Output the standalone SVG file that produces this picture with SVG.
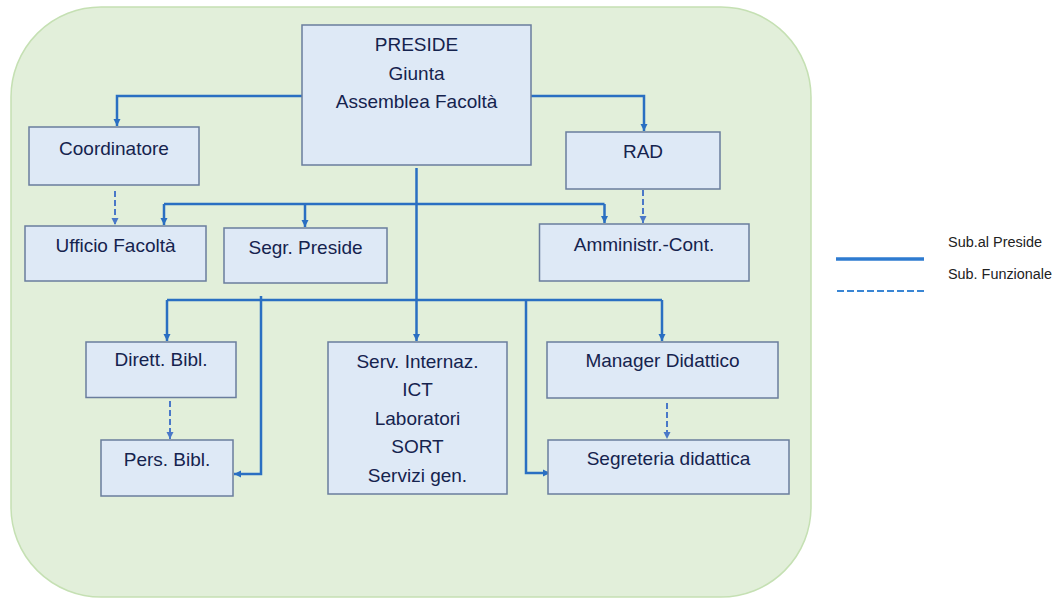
<svg xmlns="http://www.w3.org/2000/svg" width="1061" height="598" viewBox="0 0 1061 598">
<style>
.box{fill:#dee9f6;stroke:#6a7d9d;stroke-width:1.5}
.t{font-family:"Liberation Sans",Arial,sans-serif;font-size:19px;fill:#15234e;text-anchor:middle}
.c{fill:none;stroke:#2a6fc2;stroke-width:2.5}
.d{fill:none;stroke:#4a78c8;stroke-width:2;stroke-dasharray:6 3}
.lg{font-family:"Liberation Sans",Arial,sans-serif;font-size:14px;fill:#222}
</style>
<defs>
<marker id="ah" markerUnits="userSpaceOnUse" markerWidth="8" markerHeight="8" refX="7" refY="4" orient="auto">
<path d="M0,0.5 L7,4 L0,7.5 z" fill="#2a6fc2"/>
</marker>
<marker id="ahd" markerUnits="userSpaceOnUse" markerWidth="8" markerHeight="8" refX="7" refY="4" orient="auto">
<path d="M0,0.5 L7,4 L0,7.5 z" fill="#4a78c8"/>
</marker>
</defs>
<rect x="11" y="7" width="800" height="590" rx="90" ry="90" fill="#e2efda" stroke="#c5e0b3" stroke-width="1.5"/>
<g id="connectors">
<path class="c" d="M302,96 H117 V126" marker-end="url(#ah)"/>
<path class="c" d="M531,96 H644 V131" marker-end="url(#ah)"/>
<path class="c" d="M416.5,168 V341" marker-end="url(#ah)"/>
<path class="c" d="M164,204 H604.5"/>
<path class="c" d="M164,204 V225" marker-end="url(#ah)"/>
<path class="c" d="M305,204 V227" marker-end="url(#ah)"/>
<path class="c" d="M604.5,204 V223" marker-end="url(#ah)"/>
<path class="c" d="M167,300 H662"/>
<path class="c" d="M167,300 V341" marker-end="url(#ah)"/>
<path class="c" d="M662,300 V341" marker-end="url(#ah)"/>
<path class="c" d="M261,296 V474 H234" marker-end="url(#ah)"/>
<path class="c" d="M526,300 V473 H550" marker-end="url(#ah)"/>
<path class="d" d="M115,191 V225" marker-end="url(#ahd)"/>
<path class="d" d="M643,190 V223" marker-end="url(#ahd)"/>
<path class="d" d="M170,401 V439" marker-end="url(#ahd)"/>
<path class="d" d="M667,403 V439" marker-end="url(#ahd)"/>
</g>
<g id="preside"><rect class="box" x="302" y="25" width="229" height="140"/>
<text class="t" x="416.5" y="51">PRESIDE</text><text class="t" x="416.5" y="80">Giunta</text><text class="t" x="416.5" y="108">Assemblea Facoltà</text></g>
<g id="coordinatore"><rect class="box" x="29" y="127" width="170" height="58"/><text class="t" x="114" y="155">Coordinatore</text></g>
<g id="rad"><rect class="box" x="566" y="132" width="154" height="57"/><text class="t" x="643" y="158">RAD</text></g>
<g id="ufficio"><rect class="box" x="25" y="226" width="181" height="55"/><text class="t" x="115.5" y="252">Ufficio Facoltà</text></g>
<g id="segr-preside"><rect class="box" x="224" y="228" width="163" height="55"/><text class="t" x="305.5" y="253.5">Segr. Preside</text></g>
<g id="amministr"><rect class="box" x="539.5" y="224" width="209.5" height="57"/><text class="t" x="644" y="250.5">Amministr.-Cont.</text></g>
<g id="dirett-bibl"><rect class="box" x="86" y="342" width="150" height="55.5"/><text class="t" x="161" y="366">Dirett. Bibl.</text></g>
<g id="pers-bibl"><rect class="box" x="101" y="440" width="132" height="56"/><text class="t" x="167" y="466">Pers. Bibl.</text></g>
<g id="servizi"><rect class="box" x="328" y="342" width="179" height="152"/>
<text class="t" x="417.5" y="368">Serv. Internaz.</text><text class="t" x="417.5" y="396">ICT</text><text class="t" x="417.5" y="424.5">Laboratori</text><text class="t" x="417.5" y="453">SORT</text><text class="t" x="417.5" y="481.5">Servizi gen.</text></g>
<g id="manager"><rect class="box" x="547" y="342" width="231" height="56"/><text class="t" x="662.5" y="367">Manager Didattico</text></g>
<g id="segreteria"><rect class="box" x="548" y="440" width="241" height="54"/><text class="t" x="668.5" y="465">Segreteria didattica</text></g>
<g id="legend">
<line x1="836" y1="259" x2="924" y2="259" stroke="#2e7bd0" stroke-width="3.5"/>
<line x1="837" y1="291" x2="926" y2="291" stroke="#3a86d4" stroke-width="2" stroke-dasharray="7 3"/>
<text class="lg" x="948" y="247" textLength="94" lengthAdjust="spacingAndGlyphs">Sub.al Preside</text>
<text class="lg" x="948" y="279" textLength="104" lengthAdjust="spacingAndGlyphs">Sub. Funzionale</text>
</g>
</svg>
